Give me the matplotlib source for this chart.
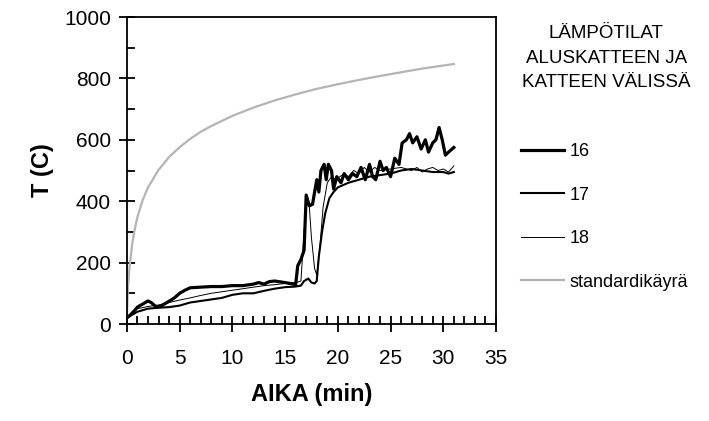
import numpy as np
import matplotlib.pyplot as plt

plt.rcParams['font.family'] = ['Liberation Sans', 'DejaVu Sans']

# aika (min) ja lämpötila (C)
t16 = [0, 0.5, 1, 1.5, 2, 2.3, 2.8, 3.2, 3.8, 4.5, 5, 5.5, 6, 7, 8, 9, 10, 11, 12, 12.5,
       13, 13.5, 14, 15, 15.8, 16.0, 16.2, 16.5, 16.8, 17.0, 17.3, 17.6, 18.0, 18.2, 18.4,
       18.7, 18.9, 19.1, 19.4, 19.6, 19.9, 20.3, 20.6, 21, 21.4, 21.8, 22.2, 22.6, 23, 23.3,
       23.6, 24, 24.3, 24.6, 25, 25.4, 25.8, 26.1, 26.5, 26.8, 27.1, 27.5, 27.9, 28.3, 28.6,
       29, 29.3, 29.6, 29.9, 30.2, 30.5, 31]
T16 = [20, 35, 55, 65, 75, 70, 55, 58, 70, 85, 100, 110, 118, 120, 122, 122, 125, 125, 130, 135,
       130, 138, 140, 135, 130, 128, 190, 210, 240, 420, 385, 390, 470, 430, 500,
       520, 470, 520, 500, 440, 480, 460, 490, 470, 490, 480, 510, 470, 520, 480,
       470, 530, 500, 510, 480, 540, 520, 590, 600, 620, 590, 610, 570, 600, 560,
       590, 600, 640, 600, 550, 560, 575]

t17 = [0, 0.5, 1, 2, 3, 4, 5, 6, 7, 8, 9, 10, 11, 12, 13, 14, 15, 16, 16.5, 16.8, 17.2, 17.5,
       17.8, 18.0, 18.2, 18.5, 18.8, 19.2, 19.6, 20, 21, 22, 23, 24, 25, 26, 27, 28, 29, 30,
       30.5, 31]
T17 = [20, 30, 40, 50, 53, 55, 60, 70, 75, 80, 85, 95, 100, 100, 108, 115, 120, 122, 125, 140,
       148, 135, 132, 140, 220, 300, 360, 410, 430, 445, 460, 470, 480, 485, 490, 500, 505,
       500, 495, 495, 490, 495]

t18 = [0, 0.5, 1, 2, 3, 4, 5, 6, 7, 8, 9, 10, 11, 12, 13, 14, 15, 16, 16.5, 16.8, 17.0, 17.3,
       17.5, 17.8, 18.0, 18.3, 18.6, 19, 19.4, 19.8, 20.2, 20.6, 21, 21.5, 22, 22.5, 23, 23.5,
       24, 25, 26, 27, 27.5, 28, 28.5, 29, 29.5, 30, 30.5, 31]
T18 = [20, 40, 50, 57, 62, 70, 78, 85, 93, 100, 105, 110, 115, 120, 125, 128, 132, 135, 140,
       300, 410, 380, 280, 180, 160, 250, 380, 460, 480, 470, 480, 490, 480, 500, 490, 510,
       495, 510, 500, 505, 510, 500, 510, 495, 505, 510, 500, 505, 495, 515]

t_std = [0, 0.1, 0.25, 0.5, 0.75, 1, 1.5, 2, 3, 4, 5, 6, 7, 8, 10, 12, 14, 16, 18, 20, 22, 24,
         26, 28, 30, 31]
T_std = [20, 118, 185, 261, 310, 349, 404, 445, 502, 544, 576, 603, 626, 645, 678, 705, 728,
         748, 766, 781, 795, 808, 820, 832, 842, 847]

fig = plt.figure(figsize=(7.09, 4.21), dpi=100)
ax = fig.add_axes([0.179, 0.2304, 0.5206, 0.7292])

l16, = ax.plot(t16, T16, c='k', lw=2.3)
l17, = ax.plot(t17, T17, c='k', lw=1.5)
l18, = ax.plot(t18, T18, c='k', lw=0.7)
lstd, = ax.plot(t_std, T_std, c='#b4b4b4', lw=1.6)

ax.set_xlim(0, 35)
ax.set_ylim(0, 1000)
ax.set_xticks(np.arange(0, 36, 5))
ax.set_xticks(np.arange(0, 36, 1), minor=True)
ax.set_yticks(np.arange(0, 1001, 200))
ax.set_yticks(np.arange(0, 1001, 100), minor=True)
ax.tick_params(axis='x', which='major', direction='inout', length=12, width=1.3,
               labelsize=15, pad=12, colors='k')
ax.tick_params(axis='x', which='minor', direction='in', length=6, width=1.3)
ax.tick_params(axis='y', which='major', direction='inout', length=11, width=1.3,
               labelsize=15, pad=6)
ax.tick_params(axis='y', which='minor', direction='in', length=5.5, width=1.3)
for s in ax.spines.values():
    s.set_linewidth(1.3)

ax.set_xlabel('AIKA (min)', fontsize=17, fontweight='bold', labelpad=11)
ax.set_ylabel('T (C)', fontsize=17, fontweight='bold', labelpad=7)

fig.text(0.855, 0.862, 'LÄMPÖTILAT\nALUSKATTEEN JA\nKATTEEN VÄLISSÄ', ha='center', va='center',
         fontsize=13.5, linespacing=1.55)
fig.legend([l16, l17, l18, lstd], ['16', '17', '18', 'standardikäyrä'], loc='center left',
           bbox_to_anchor=(0.735, 0.485), frameon=False, fontsize=13, handlelength=2.4,
           handletextpad=0.3, labelspacing=1.47, borderpad=0, borderaxespad=0)

fig.savefig('out.png', dpi=100)
